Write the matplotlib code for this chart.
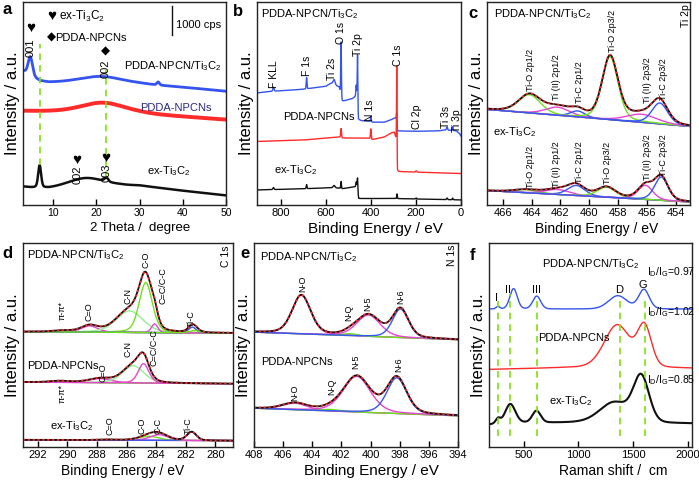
import numpy as np
import matplotlib.pyplot as plt

plt.rcParams['font.family'] = ['Liberation Sans', 'DejaVu Sans']
plt.rcParams['mathtext.fontset'] = 'custom'
plt.rcParams['mathtext.rm'] = 'Liberation Sans'
plt.rcParams['mathtext.it'] = 'Liberation Sans:italic'
plt.rcParams['mathtext.bf'] = 'Liberation Sans:bold'
plt.rcParams['mathtext.default'] = 'regular'

FIG_W, FIG_H = 699, 482
DPI = 100

TI3C2 = 'Ti$_3$C$_2$'
HYB = 'PDDA-NPCN/' + TI3C2
NPCN = 'PDDA-NPCNs'
EX = 'ex-' + TI3C2

# ---------------- (a) XRD : baseline anchors + peaks (2theta, height, fwhm)
A_BLUE_BX = [3, 5, 7, 9, 30, 40, 50]
A_BLUE_BY = [66.0, 63.0, 61.0, 60.3, 59.5, 58.0, 56.0]
A_BLUE_PX = [4.7, 21.0, 34.3]
A_BLUE_PH = [9.5, 3.5, 1.5]
A_BLUE_PW = [1.2, 12.0, 0.7]

A_RED_BX = [3, 10, 30, 40, 50]
A_RED_BY = [46.3, 46.0, 45.0, 43.5, 42.0]
A_RED_PX = [21.5]
A_RED_PH = [5.0]
A_RED_PW = [12.0]

A_BLK_BX = [3, 5, 9, 25, 30, 40, 50]
A_BLK_BY = [9.0, 8.5, 8.0, 9.5, 9.5, 7.0, 4.7]
A_BLK_PX = [6.85, 17.5, 22.3]
A_BLK_PH = [11.0, 4.5, 2.0]
A_BLK_PW = [0.8, 10.0, 1.0]

A_GUIDES_X = [6.85, 22.26]
A_GUIDES_Y = [(19.5, 79.3), (13.2, 66.6)]

# ---------------- (b) XPS survey
B_BLUE_BX = [905, 840, 700, 600, 575, 540, 528, 480, 468, 462, 455, 440, 410, 395, 340, 310, 292, 287, 282, 200, 100, 70, 20, 5, 0]
B_BLUE_BY = [55.2, 56.0, 57.0, 58.5, 60.0, 58.0, 51.0, 52.5, 53.5, 54.0, 42.0, 41.5, 41.3, 40.8, 40.8, 42.0, 43.0, 42.5, 36.5, 36.3, 36.5, 37.0, 36.5, 35.0, 34.0]
B_BLUE_PX = [832, 685, 563, 532, 465, 459, 400, 285, 62, 37]
B_BLUE_PH = [2.0, 5.5, 2.5, 27.0, 5.0, 25.0, 2.5, 5.0, 1.5, 2.0]
B_BLUE_PW = [6, 4, 10, 3.5, 3.5, 3.0, 4, 3, 5, 4]

B_RED_BX = [905, 700, 540, 528, 450, 410, 395, 340, 310, 296, 288, 282, 0]
B_RED_BY = [31.3, 32.0, 33.5, 33.0, 33.0, 33.0, 32.2, 33.5, 35.5, 35.8, 32.5, 16.5, 15.5]
B_RED_PX = [532, 400, 285, 199]
B_RED_PH = [4.5, 5.0, 44.0, 0.6]
B_RED_PW = [4, 4, 2.5, 5]

B_BLK_BX = [905, 700, 580, 540, 528, 470, 461, 454, 300, 0]
B_BLK_BY = [7.4, 8.0, 8.5, 8.3, 8.0, 9.0, 9.5, 3.2, 3.2, 2.5]
B_BLK_PX = [832, 685, 563, 532, 465, 459, 284, 199, 62, 37]
B_BLK_PH = [1.0, 2.0, 1.2, 3.5, 2.0, 5.5, 2.3, 0.5, 0.8, 0.8]
B_BLK_PW = [6, 4, 10, 3.5, 3.5, 3, 3, 5, 5, 4]

B_LINES = ['F KLL', 'F 1s', 'Ti 2s', 'O 1s', 'Ti 2p', 'N 1s', 'C 1s', 'Cl 2p', 'Ti 3s', 'Ti 3p']
B_LINES_X = [831, 684, 571, 531, 457, 405, 279, 197, 67, 19]
B_LINES_Y = [64.5, 68.8, 67.1, 84.8, 78.9, 46.5, 73.8, 43.4, 43.4, 41.4]

# ---------------- (c) Ti 2p fits (BE, height, fwhm)
C_NAMES = ['Ti-O 2p1/2', 'Ti (II) 2p1/2', 'Ti-C 2p1/2', 'Ti-O 2p3/2', 'Ti (II) 2p3/2', 'Ti-C 2p3/2']
C_TOP_POS = [464.15, 462.2, 460.8, 458.55, 456.35, 455.1]
C_TOP_HGT = [9.0, 4.0, 3.0, 31.0, 4.0, 10.3]
C_TOP_FWHM = [1.8, 2.0, 1.2, 1.3, 2.5, 1.3]
C_TOP_BASE = [47.1, 38.7]
C_BOT_POS = [464.4, 462.2, 460.9, 458.8, 456.1, 455.0]
C_BOT_HGT = [1.5, 2.5, 5.0, 5.0, 7.0, 11.5]
C_BOT_FWHM = [2.0, 2.0, 1.4, 1.5, 1.2, 1.1]
C_BOT_BASE = [7.1, 1.5]
C_TOP_LBL_X = [464.09, 462.26, 460.66, 458.38, 455.97, 454.83]
C_TOP_LBL_Y = [56.1, 51.5, 50.2, 75.5, 50.2, 51.9]
C_BOT_LBL_X = [464.09, 462.26, 460.66, 458.72, 455.97, 454.83]
C_BOT_LBL_Y = [8.3, 8.8, 11.0, 10.5, 12.2, 14.4]

# ---------------- (d) C 1s fits
D_TOP_NAMES = ['π-π*', 'C=O', 'C-N', 'C-O', 'C=C/C-C', 'Ti-C', '']
D_TOP_POS = [290.3, 288.5, 285.8, 284.7, 284.1, 281.55, 281.4]
D_TOP_HGT = [0.6, 3.1, 10.6, 24.5, 4.3, 2.8, 1.2]
D_TOP_FWHM = [1.5, 1.3, 2.1, 1.05, 0.5, 0.6, 0.8]
D_TOP_BASE = [56.5, 55.8]
D_TOP_LBL_X = [290.37, 288.57, 285.88, 284.71, 283.56, 281.61]
D_TOP_LBL_Y = [62.3, 61.7, 70.1, 87.5, 70.1, 58.8]

D_MID_NAMES = ['π-π*', 'C=O', 'C-N', 'C=C/C-C']
D_MID_POS = [290.5, 287.8, 285.55, 284.85]
D_MID_HGT = [0.7, 2.0, 8.5, 9.5]
D_MID_FWHM = [1.6, 1.8, 1.7, 0.85]
D_MID_BASE = [31.8, 31.0]
D_MID_LBL_X = [290.37, 287.6, 285.92, 284.15]
D_MID_LBL_Y = [21.4, 31.8, 44.0, 39.7]

D_BOT_NAMES = ['C=O', 'C-O', 'C-C', 'Ti-C']
D_BOT_POS = [287.3, 284.5, 283.8, 281.6]
D_BOT_HGT = [0.3, 2.0, 2.8, 4.2]
D_BOT_FWHM = [1.5, 1.6, 1.4, 0.75]
D_BOT_BASE = [3.5, 3.1]
D_BOT_LBL_X = [287.11, 284.98, 283.9, 281.83]
D_BOT_LBL_Y = [5.7, 6.6, 6.6, 6.6]

# ---------------- (e) N 1s fits
E_NAMES = ['N-O', 'N-Q', 'N-5', 'N-6']
E_TOP_POS = [404.75, 401.4, 400.15, 397.95]
E_TOP_HGT = [19.0, 1.0, 10.5, 14.0]
E_TOP_FWHM = [1.5, 1.2, 1.9, 1.3]
E_TOP_BASE = [56.3, 52.6]
E_TOP_LBL_X = [404.65, 401.52, 400.19, 397.96]
E_TOP_LBL_Y = [75.8, 61.8, 66.9, 70.3]
E_BOT_POS = [405.2, 402.8, 400.95, 398.2]
E_BOT_HGT = [3.2, 0.8, 17.5, 17.5]
E_BOT_FWHM = [2.0, 1.5, 2.2, 1.6]
E_BOT_BASE = [19.0, 15.3]
E_BOT_LBL_X = [405.18, 402.66, 400.99, 398.08]
E_BOT_LBL_Y = [22.7, 25.7, 38.3, 36.6]

# ---------------- (f) Raman
F_BLUE_BX = [180, 2040]
F_BLUE_BY = [67.6, 67.6]
F_BLUE_PX = [262, 405, 617, 1360, 1600]
F_BLUE_PH = [1.2, 10.0, 6.3, 6.5, 9.5]
F_BLUE_PW = [40, 80, 85, 200, 115]

F_RED_BX = [180, 900, 2040]
F_RED_BY = [38.0, 38.8, 38.5]
F_RED_PX = [1355, 1605]
F_RED_PH = [21.0, 19.5]
F_RED_PW = [280, 150]

F_BLK_BX = [180, 500, 1000, 2040]
F_BLK_BY = [11.0, 11.8, 12.0, 11.5]
F_BLK_PX = [262, 375, 615, 1330, 1575]
F_BLK_PH = [2.5, 9.5, 5.8, 10.0, 22.0]
F_BLK_PW = [50, 110, 90, 320, 170]

F_BANDS = ['I', 'II', 'III', 'D', 'G']
F_BANDS_X = [253, 353, 617, 1371, 1593]
F_BANDS_Y = [72.8, 77.2, 77.2, 77.2, 79.6]
F_GUIDES_X = [262, 368, 617, 1377, 1608]
F_GUIDES_TOP = [71.6, 75.0, 74.2, 74.2, 74.2]
F_RATIOS = ['0.97', '1.02', '0.85']
F_RATIOS_Y = [85.7, 66.0, 32.6]

# colours
BLUE = '#3553ee'
RED = '#ff2a2a'
BLACK = '#111111'
GREEN = '#6ee01c'
LGREEN = '#93ee93'
MAGENTA = '#e645cf'
FITBLUE = '#3458f0'
BASE = '#a070b0'
GUIDE = '#7ee010'
NAVY = '#2a2a80'


def peak(x, c, h, w, eta=0.3):
    g = np.exp(-4 * np.log(2) * ((x - c) / w) ** 2)
    l = 1.0 / (1 + 4 * ((x - c) / w) ** 2)
    return h * ((1 - eta) * g + eta * l)


def spectrum(x, bx, by, px, ph, pw, eta=0.3):
    bx = np.asarray(bx, float)
    by = np.asarray(by, float)
    order = np.argsort(bx)
    y = np.interp(x, bx[order], by[order])
    for c, h, w in zip(px, ph, pw):
        y = y + peak(x, c, h, w, eta)
    return y


def make_axes(fig, left, right, top, bottom):
    rect = [left / FIG_W, 1 - bottom / FIG_H, (right - left) / FIG_W, (bottom - top) / FIG_H]
    return fig.add_axes(rect)


def style(ax, xlim, xticks, xlabel, label_x=0.5, label_size=10.5, tick_size=8):
    ax.set_xlim(*xlim)
    ax.set_ylim(0, 100)
    ax.set_xticks(xticks)
    ax.set_yticks([])
    ax.tick_params(axis='x', direction='in', length=4, width=1, labelsize=tick_size, pad=2)
    for s in ax.spines.values():
        s.set_linewidth(1.0)
        s.set_color('#222222')
    ax.set_xlabel(xlabel, fontsize=label_size, labelpad=1)
    ax.xaxis.set_label_coords(label_x, -0.085)
    ax.xaxis.label.set_va('top')
    ax.set_ylabel('Intensity / a.u.', fontsize=12, labelpad=2)


def draw_fit(ax, x, base, pos, hgt, fwhm, colors, eta=0.3):
    bl = base[0] + (base[1] - base[0]) * (x - x[0]) / (x[-1] - x[0])
    total = bl.copy()
    ax.plot(x, bl, color=BASE, lw=0.9)
    for c, h, w, col in zip(pos, hgt, fwhm, colors):
        comp = peak(x, c, h, w, eta)
        ax.plot(x, bl + comp, color=col, lw=1.0)
        total = total + comp
    ax.plot(x, total, color=BLACK, lw=1.3)
    ax.plot(x, total, color=RED, lw=1.4, ls=(0, (1, 1.5)))


def rot_labels(ax, names, xs, ys, size=6.5):
    for n, xx, yy in zip(names, xs, ys):
        if n:
            ax.text(xx, yy, n, rotation=90, ha='center', va='bottom', fontsize=size)


fig = plt.figure(figsize=(FIG_W / DPI, FIG_H / DPI), dpi=DPI)

# ======================= (a)
ax = make_axes(fig, 23, 226, 2, 205)
x = np.linspace(3, 50, 3000)
ax.plot(x, spectrum(x, A_BLUE_BX, A_BLUE_BY, A_BLUE_PX, A_BLUE_PH, A_BLUE_PW), color=BLUE, lw=2.0)
ax.plot(x, spectrum(x, A_RED_BX, A_RED_BY, A_RED_PX, A_RED_PH, A_RED_PW), color=RED, lw=2.8)
ax.plot(x, spectrum(x, A_BLK_BX, A_BLK_BY, A_BLK_PX, A_BLK_PH, A_BLK_PW), color=BLACK, lw=1.8)
for gx, (y0, y1) in zip(A_GUIDES_X, A_GUIDES_Y):
    ax.plot([gx, gx], [y0, y1], color=GUIDE, lw=1.2, ls=(0, (4, 3)))
style(ax, (3, 50), [10, 20, 30, 40, 50], '2 Theta /  degree', label_x=0.575, label_size=9.5, tick_size=7.5)
ax.text(9.7, 93.0, '♥', fontsize=11, ha='center', va='center')
ax.text(11.3, 93.0, EX, fontsize=8.5, ha='left', va='center')
ax.text(9.5, 82.3, '◆', fontsize=8.5, ha='center', va='center')
ax.text(10.5, 82.3, NPCN, fontsize=8, ha='left', va='center')
ax.plot([37.6, 37.6], [83.6, 98.0], color=BLACK, lw=1.0)
ax.text(38.4, 88.6, '1000 cps', fontsize=8, ha='left', va='center')
ax.text(4.7, 87.3, '♥', fontsize=11, ha='center', va='center')
ax.text(4.85, 77.5, '001', fontsize=8, rotation=90, ha='center', va='center')
ax.text(22.2, 75.8, '◆', fontsize=8.5, ha='center', va='center')
ax.text(22.2, 67.0, '002', fontsize=8, rotation=90, ha='center', va='center')
ax.text(15.5, 22.2, '♥', fontsize=11, ha='center', va='center')
ax.text(15.6, 14.9, '002', fontsize=8, rotation=90, ha='center', va='center')
ax.text(22.2, 23.4, '♥', fontsize=11, ha='center', va='center')
ax.text(22.3, 15.8, '003', fontsize=8, rotation=90, ha='center', va='center')
ax.text(26.3, 68.3, HYB, fontsize=8, ha='left', va='center')
ax.text(30.1, 47.6, NPCN, fontsize=8, ha='left', va='center', color=NAVY)
ax.text(31.7, 16.6, EX, fontsize=8, ha='left', va='center')

# ======================= (b)
ax = make_axes(fig, 257, 461, 2, 205)
x = np.linspace(905, 0, 6000)
ax.plot(x, spectrum(x, B_BLUE_BX, B_BLUE_BY, B_BLUE_PX, B_BLUE_PH, B_BLUE_PW, 0.2), color=BLUE, lw=1.0)
ax.plot(x, spectrum(x, B_RED_BX, B_RED_BY, B_RED_PX, B_RED_PH, B_RED_PW, 0.2), color=RED, lw=1.0)
ax.plot(x, spectrum(x, B_BLK_BX, B_BLK_BY, B_BLK_PX, B_BLK_PH, B_BLK_PW, 0.2), color=BLACK, lw=1.0)
style(ax, (905, 0), [800, 600, 400, 200, 0], 'Binding Energy / eV', label_x=0.58, label_size=11)
for n, xx, yy in zip(B_LINES, B_LINES_X, B_LINES_Y):
    ax.text(xx, yy, n, rotation=90, ha='center', va='center', fontsize=7.5)
ax.text(887, 93.8, HYB, fontsize=8, ha='left', va='center')
ax.text(791, 43.4, NPCN, fontsize=8, ha='left', va='center')
ax.text(828, 17.2, EX, fontsize=8, ha='left', va='center')

# ======================= (c)
ax = make_axes(fig, 487, 690, 2, 205)
x = np.linspace(467.1, 453.0, 1500)
c_cols = [GREEN, MAGENTA, FITBLUE, GREEN, MAGENTA, FITBLUE]
draw_fit(ax, x, C_TOP_BASE, C_TOP_POS, C_TOP_HGT, C_TOP_FWHM, c_cols)
draw_fit(ax, x, C_BOT_BASE, C_BOT_POS, C_BOT_HGT, C_BOT_FWHM, c_cols)
style(ax, (467.1, 453.0), [466, 464, 462, 460, 458, 456, 454], 'Binding Energy / eV', label_x=0.54, label_size=10)
rot_labels(ax, C_NAMES, C_TOP_LBL_X, C_TOP_LBL_Y)
rot_labels(ax, C_NAMES, C_BOT_LBL_X, C_BOT_LBL_Y)
ax.text(453.3, 93.2, 'Ti 2p', rotation=90, ha='center', va='center', fontsize=7.5)
ax.text(466.6, 93.8, HYB, fontsize=8, ha='left', va='center')
ax.text(466.7, 35.8, EX, fontsize=8, ha='left', va='center')

# ======================= (d)
ax = make_axes(fig, 23, 233, 243, 447)
x = np.linspace(293.0, 278.8, 1500)
draw_fit(ax, x, D_TOP_BASE, D_TOP_POS, D_TOP_HGT, D_TOP_FWHM,
         [GREEN, MAGENTA, LGREEN, GREEN, MAGENTA, FITBLUE, GREEN])
draw_fit(ax, x, D_MID_BASE, D_MID_POS, D_MID_HGT, D_MID_FWHM,
         [GREEN, MAGENTA, LGREEN, MAGENTA])
draw_fit(ax, x, D_BOT_BASE, D_BOT_POS, D_BOT_HGT, D_BOT_FWHM,
         [MAGENTA, GREEN, MAGENTA, FITBLUE])
style(ax, (293.0, 278.8), [292, 290, 288, 286, 284, 282, 280], 'Binding Energy / eV', label_x=0.475, label_size=10)
rot_labels(ax, D_TOP_NAMES, D_TOP_LBL_X, D_TOP_LBL_Y)
rot_labels(ax, D_MID_NAMES, D_MID_LBL_X, D_MID_LBL_Y)
rot_labels(ax, D_BOT_NAMES, D_BOT_LBL_X, D_BOT_LBL_Y)
ax.text(279.25, 93.6, 'C 1s', rotation=90, ha='center', va='center', fontsize=7.5)
ax.text(292.7, 94.1, HYB, fontsize=8, ha='left', va='center')
ax.text(292.7, 39.7, NPCN, fontsize=8, ha='left', va='center')
ax.text(291.2, 10.1, EX, fontsize=8, ha='left', va='center')

# ======================= (e)
ax = make_axes(fig, 254, 458, 243, 447)
x = np.linspace(408, 394, 1500)
e_cols = [MAGENTA, GREEN, MAGENTA, FITBLUE]
draw_fit(ax, x, E_TOP_BASE, E_TOP_POS, E_TOP_HGT, E_TOP_FWHM, e_cols)
draw_fit(ax, x, E_BOT_BASE, E_BOT_POS, E_BOT_HGT, E_BOT_FWHM, e_cols)
style(ax, (408, 394), [408, 406, 404, 402, 400, 398, 396, 394], 'Binding Energy / eV', label_x=0.577, label_size=11)
rot_labels(ax, E_NAMES, E_TOP_LBL_X, E_TOP_LBL_Y)
rot_labels(ax, E_NAMES, E_BOT_LBL_X, E_BOT_LBL_Y)
ax.text(394.4, 93.8, 'N 1s', rotation=90, ha='center', va='center', fontsize=7.5)
ax.text(407.6, 93.3, HYB, fontsize=8, ha='left', va='center')
ax.text(407.5, 41.7, NPCN, fontsize=8, ha='left', va='center')

# ======================= (f)
ax = make_axes(fig, 489, 692, 243, 447)
x = np.linspace(180, 2040, 3000)
ax.plot(x, spectrum(x, F_BLUE_BX, F_BLUE_BY, F_BLUE_PX, F_BLUE_PH, F_BLUE_PW, 0.15), color=BLUE, lw=1.0)
ax.plot(x, spectrum(x, F_RED_BX, F_RED_BY, F_RED_PX, F_RED_PH, F_RED_PW, 0.2), color=RED, lw=1.0)
ax.plot(x, spectrum(x, F_BLK_BX, F_BLK_BY, F_BLK_PX, F_BLK_PH, F_BLK_PW, 0.15), color=BLACK, lw=1.5)
for gx, gt in zip(F_GUIDES_X, F_GUIDES_TOP):
    ax.plot([gx, gx], [5.4, gt], color=GUIDE, lw=1.2, ls=(0, (4, 3)))
style(ax, (180, 2040), [500, 1000, 1500, 2000], 'Raman shift /  cm', label_x=0.61, label_size=10)
for n, xx, yy in zip(F_BANDS, F_BANDS_X, F_BANDS_Y):
    ax.text(xx, yy, n, ha='center', va='center', fontsize=8)
for r, yy in zip(F_RATIOS, F_RATIOS_Y):
    ax.text(1630, yy, 'I$_D$/I$_G$=' + r, ha='left', va='center', fontsize=7.5)
ax.text(1113, 89.8, HYB, fontsize=8, ha='center', va='center')
ax.text(627, 53.5, NPCN, fontsize=8, ha='left', va='center')
ax.text(727, 22.4, EX, fontsize=8, ha='left', va='center')

# panel letters
for letter, px, py in [('a', 7, 10), ('b', 238, 12), ('c', 473, 13),
                       ('d', 7, 253), ('e', 245, 253), ('f', 473, 255)]:
    fig.text(px / FIG_W, 1 - py / FIG_H, letter, fontsize=12, fontweight='bold',
             ha='center', va='center')

fig.savefig('out.png', dpi=DPI)
